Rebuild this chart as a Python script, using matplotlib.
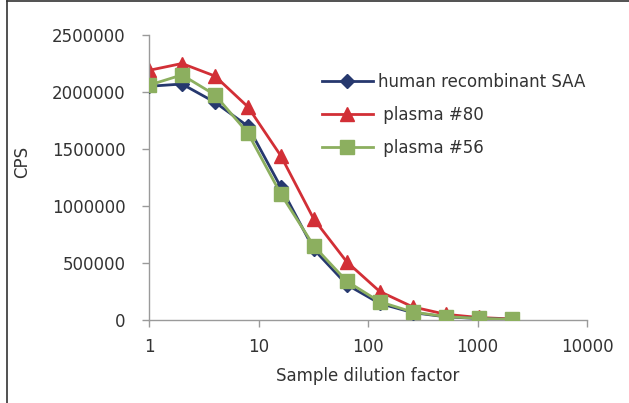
import matplotlib
matplotlib.use("Agg")
import matplotlib.pyplot as plt
from matplotlib.lines import Line2D

dilution = [1, 2, 4, 8, 16, 32, 64, 128, 256, 512, 1024, 2048]
human_saa = [2050000, 2070000, 1910000, 1700000, 1165000, 620000, 310000, 145000, 65000, 28000, 13000, 5000]
plasma_80 = [2190000, 2250000, 2140000, 1870000, 1440000, 885000, 510000, 250000, 115000, 50000, 22000, 9000]
plasma_56 = [2060000, 2150000, 1975000, 1640000, 1105000, 650000, 340000, 160000, 70000, 30000, 14000, 5000]

plt.rcParams['font.family'] = ['DejaVu Sans']
FS = 12

fig = plt.figure(figsize=(6.29, 4.03), dpi=100)
ax = fig.add_axes([149/629, 1-320/403, (587-149)/629, (320-35)/403])

ax.plot(dilution, human_saa, color='#26386E', lw=2, marker='D', ms=7, label='human recombinant SAA', zorder=3)
ax.plot(dilution, plasma_80, color='#D22F36', lw=2, marker='^', ms=10, label=' plasma #80', zorder=2)
ax.plot(dilution, plasma_56, color='#8CAF5F', lw=2, marker='s', ms=10, label=' plasma #56', zorder=4)

ax.set_xscale('log')
ax.set_xlim(1, 10000)
ax.set_ylim(0, 2500000)
ax.set_xticks([1, 10, 100, 1000, 10000])
ax.set_xticklabels(['1', '10', '100', '1000', '10000'])
ax.set_yticks([0, 500000, 1000000, 1500000, 2000000, 2500000])
ax.set_yticklabels(['0', '500000', '1000000', '1500000', '2000000', '2500000'])
ax.minorticks_off()

for s in ['top', 'right']:
    ax.spines[s].set_visible(False)
for s in ['left', 'bottom']:
    ax.spines[s].set_color('#9a9a9a')
    ax.spines[s].set_linewidth(1)
ax.tick_params(axis='both', colors='#9a9a9a', labelcolor='#333333', labelsize=FS, length=5, width=1)
ax.tick_params(axis='x', pad=8)
ax.tick_params(axis='y', pad=12)

ax.set_xlabel('Sample dilution factor', fontsize=FS, color='#333333', labelpad=8)
ax.set_ylabel('CPS', fontsize=FS, color='#333333')
ax.yaxis.set_label_coords(-0.27, 0.555)

leg = ax.legend(loc='upper left', bbox_to_anchor=(0.36, 0.92), frameon=False, fontsize=FS,
                handlelength=3.05, labelspacing=0.9, handletextpad=0.35)
for t in leg.get_texts():
    t.set_color('#333333')

fig.add_artist(Line2D([7/629, 7/629], [0, 1-1/403], color='#333333', lw=1.2, transform=fig.transFigure))
fig.add_artist(Line2D([7/629, 1], [1-1/403, 1-1/403], color='#333333', lw=1.2, transform=fig.transFigure))

fig.savefig('out.png', dpi=100)
